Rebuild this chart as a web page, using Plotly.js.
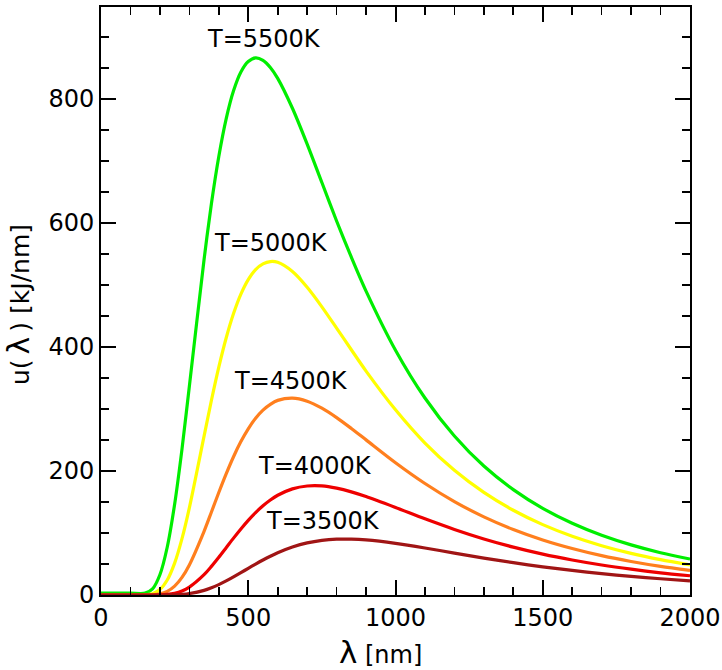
<!DOCTYPE html>
<html>
<head>
<meta charset="utf-8">
<script src="https://cdn.plot.ly/plotly-3.0.1.min.js"></script>
<style>
  html, body { margin: 0; padding: 0; background: #ffffff; }
  #planck { width: 722px; height: 670px; }
</style>
</head>
<body>
<div id="planck"></div>
<script>
// wavelength grid (nm)
var lam = [0, 100, 150, 175, 200, 225, 250, 275, 300, 350, 375, 400, 425, 450, 475, 500, 525, 550, 575, 600, 650,
  700, 750, 800, 850, 900, 1000, 1100, 1200, 1300, 1400, 1500, 1600, 1700, 1800, 1900, 2000];

// spectral energy density, kJ/nm
var u5500 = [3, 3, 3, 9.8, 32.6, 77.4, 146.3, 235.2, 336.4, 540.9, 631.1, 707, 767.7, 812.9, 843.2, 860, 866, 862, 850.6, 833, 784.8,
  727, 665, 603, 544.7, 490, 394.7, 317.6, 256.3, 207.9, 169.9, 139.7, 115.6, 96.3, 80.8, 68.2, 58.0];
var u5000 = [0, 0, 0.3, 2.2, 8.8, 24.2, 51.4, 90.8, 140.6, 256.1, 313.9, 367.3, 414.3, 453.8, 485.2, 508.6, 524.7, 533.9, 537.6, 536.3, 521.5,
  496.1, 464.6, 430.3, 395.4, 361.0, 298.6, 245.0, 201.1, 165.4, 136.6, 113.4, 94.7, 79.5, 67.1, 57.0, 48.6];
var u4500 = [0, 0, 0, 0.4, 1.8, 5.9, 14.3, 28.4, 48.5, 102.7, 133.8, 165.2, 195.2, 222.9, 247.3, 268.0, 285.0, 298.1, 307.4, 313.8, 317.5,
  312.5, 301.2, 286.0, 268.5, 250.1, 213.3, 179.8, 150.6, 126.0, 105.6, 88.7, 74.9, 63.4, 54.0, 46.1, 39.6];
var u4000 = [0, 0, 0, 0, 0.2, 1.0, 2.9, 6.6, 12.8, 32.8, 46.1, 60.8, 76.2, 91.7, 106.5, 120.4, 132.9, 143.9, 153.2, 160.8, 171.1,
  175.7, 175.8, 172.2, 166.3, 158.7, 141.1, 122.8, 105.7, 90.4, 77.2, 65.9, 56.4, 48.3, 41.6, 35.8, 31.0];
var u3500 = [0, 0, 0, 0, 0, 0.1, 0.4, 1.0, 2.3, 7.5, 11.7, 16.8, 22.7, 29.2, 36.0, 43.0, 49.8, 56.4, 62.5, 68.1, 77.3,
  84.0, 88.1, 90.0, 90.1, 88.8, 83.3, 75.8, 67.5, 59.5, 52.1, 45.4, 39.6, 34.4, 30.0, 26.2, 22.9];

var labels = ["T=5500K", "T=5000K", "T=4500K", "T=4000K", "T=3500K"];
var series = [u5500, u5000, u4500, u4000, u3500];
var colors = ["#00ee00", "#ffff00", "#ff7f1e", "#ee0000", "#a01515"];

// label spots, data coords
var labelX = [552, 577, 645, 727, 754];
var labelY = [897, 568, 345, 208, 119];

var data = series.map(function (s, i) {
  return {
    x: lam,
    y: s,
    type: 'scatter',
    mode: 'lines',
    name: labels[i],
    line: { color: colors[i], width: 3.2, shape: 'spline', smoothing: 0.8 },
    hoverinfo: 'skip'
  };
});

var font = { family: 'DejaVu Sans, sans-serif', size: 24, color: '#000' };

var annotations = labels.map(function (t, i) {
  return {
    x: labelX[i], y: labelY[i], xref: 'x', yref: 'y',
    text: t, showarrow: false, font: font,
    xanchor: 'center', yanchor: 'middle'
  };
});

// axis titles as annotations so they sit where the original has them (pixel spots)
annotations.push({
  x: 380, y: 652, xref: 'paper', yref: 'paper', xanchor: 'center', yanchor: 'middle',
  text: '<span style="font-size:31px">λ</span> [nm]', showarrow: false, font: font
});
annotations.push({
  x: 18, y: 305, xref: 'paper', yref: 'paper', xanchor: 'center', yanchor: 'middle',
  text: 'u(\u2009<span style="font-size:30px">λ</span>\u2009) [kJ/nm]', showarrow: false,
  font: { family: font.family, size: 25, color: '#000' },
  textangle: -90
});

function axis(range, dtick, minorDtick) {
  return {
    range: range,
    tick0: 0,
    dtick: dtick,
    ticks: 'inside',
    ticklen: 15,
    tickwidth: 2,
    tickcolor: '#000',
    showline: true,
    linewidth: 2,
    linecolor: '#000',
    mirror: 'allticks',
    showgrid: false,
    zeroline: false,
    tickfont: font,
    minor: { dtick: minorDtick, ticks: 'inside', ticklen: 8, tickwidth: 1.6, tickcolor: '#000', showgrid: false }
  };
}

var layout = {
  width: 722,
  height: 670,
  margin: { l: 101, r: 32, t: 7, b: 75 },
  paper_bgcolor: '#ffffff',
  plot_bgcolor: '#ffffff',
  showlegend: false,
  font: font,
  xaxis: axis([0, 2000], 500, 100),
  yaxis: axis([0, 948], 200, 50),
  annotations: annotations
};

// convert the pixel spots of the two titles to paper fractions
var pw = layout.width - layout.margin.l - layout.margin.r;
var ph = layout.height - layout.margin.t - layout.margin.b;
annotations.slice(-2).forEach(function (a) {
  a.x = (a.x - layout.margin.l) / pw;
  a.y = (layout.height - layout.margin.b - a.y) / ph;
});

Plotly.newPlot('planck', data, layout, { displayModeBar: false, staticPlot: true });
</script>
</body>
</html>
